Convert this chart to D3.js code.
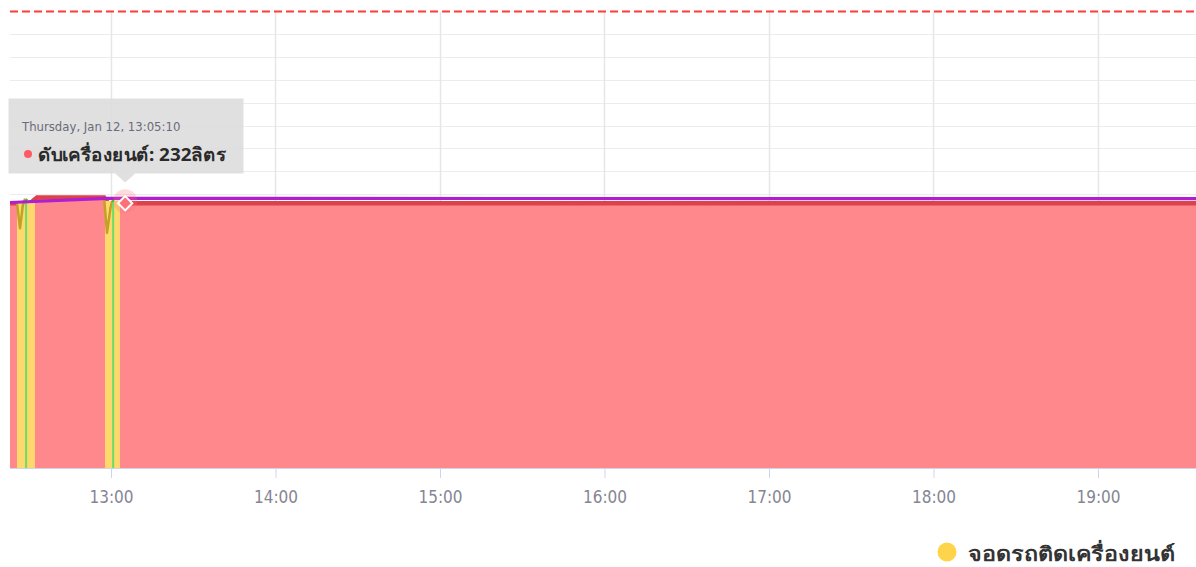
<!DOCTYPE html>
<html>
<head>
<meta charset="utf-8">
<script src="https://cdn.jsdelivr.net/npm/d3@7"></script>
<style>
  html, body { margin: 0; padding: 0; background: #fff; overflow: hidden; }
  svg { display: block; }
</style>
</head>
<body>
<svg id="chart" width="1196" height="567"></svg>
<script>
// ---------------- DATA ----------------
const day = "2023-01-12";
const xDomain = ["12:23:10", "19:35:45"];
const yDomain = [0, 400];
const yGridValues = [20, 40, 60, 80, 100, 120, 140, 160, 180, 200, 220, 240, 260, 280, 300, 320, 340, 360, 380];
const capacityValue = 400;            // dashed red line
const tickTimes = ["13:00", "14:00", "15:00", "16:00", "17:00", "18:00", "19:00"];

// fuel level while engine off (red area)
const fuelTimes  = ["12:20:00", "12:30:30", "12:33:00", "12:57:30", "12:59:00", "13:05:10", "19:40:00"];
const fuelValues = [232, 232, 237, 237, 232, 232, 232];

// idle (engine running while parked) segments – yellow
const idleStarts = ["12:25:43", "12:57:49"];
const idleEnds   = ["12:32:17", "13:03:17"];
const idleTop    = [233, 234];

// idle-series line readings (olive) with short dips
const idleLine1Times  = ["12:25:43", "12:26:49", "12:27:50", "12:28:40"];
const idleLine1Values = [232, 210, 230, 236];
const idleLine2Times  = ["12:57:30", "12:58:33", "12:59:50", "13:00:30"];
const idleLine2Values = [236, 206, 228, 234];

// driving segments – green (very short)
const driveStarts = ["12:28:40", "13:00:25"];
const driveEnds   = ["12:29:25", "13:01:10"];
const driveTop    = [236, 236];

// trend line (purple)
const trendTimes  = ["12:20:00", "12:58:30", "19:40:00"];
const trendValues = [232.3, 236.2, 236.0];

// tooltip
const hoverTime = "13:05:10";
const hoverValue = 232;
const tooltipTitle = "Thursday, Jan 12, 13:05:10";
const tooltipSeries = "ดับเครื่องยนต์";
const tooltipUnit = "ลิตร";
const legendLabel = "จอดรถติดเครื่องยนต์";

// ---------------- CHART ----------------
const parse = t => d3.timeParse("%Y-%m-%d %H:%M:%S")(day + " " + (t.length === 5 ? t + ":00" : t));
const svg = d3.select("#chart");
const plot = { left: 10, right: 1196, top: 11.5, bottom: 468 };

const x = d3.scaleTime().domain(xDomain.map(parse)).range([plot.left, plot.right]);
const y = d3.scaleLinear().domain(yDomain).range([plot.bottom, plot.top]);

const defs = svg.append("defs");
defs.append("clipPath").attr("id", "clip").append("rect")
  .attr("x", plot.left).attr("y", 0).attr("width", plot.right - plot.left).attr("height", plot.bottom);

// horizontal grid
svg.append("g").selectAll("line").data(yGridValues).join("line")
  .attr("x1", plot.left).attr("x2", plot.right)
  .attr("y1", d => Math.round(y(d)) + 0.5).attr("y2", d => Math.round(y(d)) + 0.5)
  .attr("stroke", "#ececec").attr("stroke-width", 1);

// vertical grid
svg.append("g").selectAll("line").data(tickTimes).join("line")
  .attr("x1", d => Math.round(x(parse(d))) + 0.5).attr("x2", d => Math.round(x(parse(d))) + 0.5)
  .attr("y1", plot.top).attr("y2", plot.bottom)
  .attr("stroke", "#e6e6e6").attr("stroke-width", 1.5);

const g = svg.append("g").attr("clip-path", "url(#clip)");

// red area (engine off)
const fuel = fuelTimes.map((t, i) => ({ t: parse(t), v: fuelValues[i] }));
const area = d3.area().x(d => x(d.t)).y0(y(0)).y1(d => y(d.v));
const line = d3.line().x(d => x(d.t)).y(d => y(d.v));
g.append("path").datum(fuel).attr("d", area).attr("fill", "#ff8489").attr("fill-opacity", 0.97);
g.append("path").datum(fuel).attr("d", line).attr("fill", "none").attr("stroke", "#dc4249").attr("stroke-width", 4.5);

// idle areas (yellow)
idleStarts.forEach((s, i) => {
  const pts = [{ t: parse(s), v: idleTop[i] }, { t: parse(idleEnds[i]), v: idleTop[i] }];
  g.append("path").datum(pts).attr("d", area).attr("fill", "#fdd86c");
});

// idle line readings (olive)
[[idleLine1Times, idleLine1Values], [idleLine2Times, idleLine2Values]].forEach(([ts, vs]) => {
  const pts = ts.map((t, i) => ({ t: parse(t), v: vs[i] }));
  g.append("path").datum(pts).attr("d", line).attr("fill", "none")
    .attr("stroke", "#c3a125").attr("stroke-width", 2.5).attr("stroke-linejoin", "round");
});

// driving areas (green)
driveStarts.forEach((s, i) => {
  const pts = [{ t: parse(s), v: driveTop[i] - 3 }, { t: parse(driveEnds[i]), v: driveTop[i] }];
  g.append("path").datum(pts).attr("d", area).attr("fill", "#6fdc6a");
  g.append("path").datum(pts).attr("d", line).attr("fill", "none").attr("stroke", "#3fbf3a").attr("stroke-width", 2);
});

// purple trend line
const trend = trendTimes.map((t, i) => ({ t: parse(t), v: trendValues[i] }));
g.append("path").datum(trend).attr("d", d3.line().x(d => x(d.t)).y(d => y(d.v)))
  .attr("fill", "none").attr("stroke", "#ad1fd0").attr("stroke-width", 3.2);

// capacity dashed line
svg.append("line")
  .attr("x1", plot.left).attr("x2", plot.right)
  .attr("y1", y(capacityValue)).attr("y2", y(capacityValue))
  .attr("stroke", "#ff3a3a").attr("stroke-width", 2).attr("stroke-dasharray", "8,4");

// x axis
const xAxis = d3.axisBottom(x)
  .tickValues(tickTimes.map(parse))
  .tickFormat(d3.timeFormat("%H:%M"))
  .tickSize(10).tickPadding(13);
const ax = svg.append("g").attr("transform", `translate(0,${plot.bottom})`).call(xAxis);
ax.select(".domain").attr("stroke", "#ccd6eb").attr("d", `M${plot.left},0.5H${plot.right}`);
ax.selectAll(".tick line").attr("stroke", "#ccd6eb");
ax.selectAll(".tick text")
  .attr("fill", "#858593")
  .style("font-family", "'Liberation Sans Narrow', 'DejaVu Sans Condensed', 'Roboto', sans-serif")
  .style("font-size", "17px");

// hover marker
const hx = x(parse(hoverTime)), hy = y(hoverValue);
svg.append("circle").attr("cx", hx).attr("cy", hy - 2).attr("r", 12)
  .attr("fill", "#ff6f78").attr("fill-opacity", 0.25);
svg.append("path")
  .attr("d", d3.symbol().type(d3.symbolDiamond2).size(130)())
  .attr("transform", `translate(${hx},${hy})`)
  .attr("fill", "#ff6f76").attr("stroke", "#fff").attr("stroke-width", 2);

// tooltip
const tip = svg.append("g");
const tb = { x: 8.5, y: 98.5, w: 235, h: 75 };
tip.append("path")
  .attr("d", `M${tb.x},${tb.y}H${tb.x + tb.w}V${tb.y + tb.h}H${hx + 10}L${hx},${tb.y + tb.h + 9}L${hx - 10},${tb.y + tb.h}H${tb.x}Z`)
  .attr("fill", "#dcdcdc").attr("fill-opacity", 0.88);
tip.append("text").attr("x", 22).attr("y", 131).text(tooltipTitle)
  .attr("fill", "#6b6b7a")
  .style("font-family", "'Liberation Sans Narrow', 'DejaVu Sans Condensed', sans-serif")
  .style("font-size", "13px");
tip.append("circle").attr("cx", 28).attr("cy", 154).attr("r", 4).attr("fill", "#ff5a64");
tip.append("text").attr("x", 38).attr("y", 161).text(`${tooltipSeries}: ${hoverValue}${tooltipUnit}`)
  .attr("fill", "#2a2a2a").attr("font-weight", "bold")
  .attr("textLength", 188).attr("lengthAdjust", "spacingAndGlyphs")
  .style("font-family", "'Noto Sans', 'DejaVu Sans', sans-serif")
  .style("font-size", "18px");

// legend
const lg = svg.append("g");
lg.append("circle").attr("cx", 947).attr("cy", 552).attr("r", 9.5).attr("fill", "#fed54a");
lg.append("text").attr("x", 968).attr("y", 561).text(legendLabel)
  .attr("fill", "#333").attr("font-weight", "bold")
  .attr("textLength", 207).attr("lengthAdjust", "spacingAndGlyphs")
  .style("font-family", "'Noto Sans', 'DejaVu Sans', sans-serif")
  .style("font-size", "20px");
</script>
</body>
</html>
